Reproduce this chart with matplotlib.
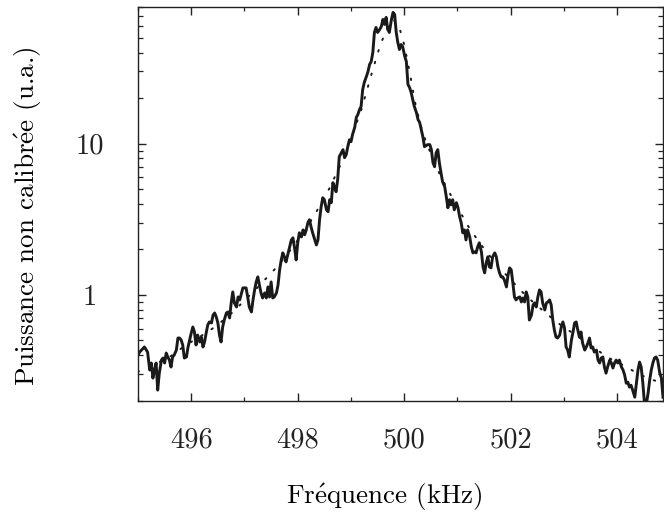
import matplotlib
matplotlib.use("Agg")
import matplotlib.pyplot as plt
from matplotlib.ticker import FixedLocator, FixedFormatter, LogLocator, NullFormatter, MultipleLocator

plt.rcParams['mathtext.fontset'] = 'cm'
plt.rcParams['font.family'] = ['cmr10', 'DejaVu Serif']

# Measured spectrum (kHz, arbitrary units)
freq = [494.99, 495.03, 495.12, 495.18, 495.22, 495.25, 495.28, 495.31, 495.34, 495.37,
        495.40, 495.44, 495.47, 495.50, 495.53, 495.56, 495.59, 495.62, 495.65, 495.68,
        495.72, 495.75, 495.78, 495.81, 495.84, 495.87, 495.91, 495.94, 495.97, 496.00,
        496.03, 496.06, 496.09, 496.12, 496.16, 496.19, 496.22, 496.25, 496.28, 496.31,
        496.34, 496.38, 496.41, 496.44, 496.47, 496.50, 496.53, 496.56, 496.59, 496.62,
        496.66, 496.69, 496.72, 496.75, 496.78, 496.81, 496.85, 496.88, 496.91, 496.97,
        497.03, 497.06, 497.09, 497.13, 497.16, 497.19, 497.22, 497.25, 497.28, 497.31,
        497.34, 497.38, 497.41, 497.44, 497.47, 497.50, 497.53, 497.56, 497.60, 497.63,
        497.66, 497.69, 497.72, 497.75, 497.78, 497.85, 497.88, 497.91, 497.94, 497.97,
        498.00, 498.03, 498.07, 498.10, 498.13, 498.16, 498.19, 498.22, 498.25, 498.28,
        498.32, 498.35, 498.38, 498.41, 498.44, 498.47, 498.50, 498.54, 498.57, 498.60,
        498.63, 498.66, 498.69, 498.72, 498.75, 498.78, 498.82, 498.85, 498.88, 498.91,
        498.94, 498.97, 499.00, 499.03, 499.07, 499.10, 499.13, 499.16, 499.19, 499.22,
        499.25, 499.29, 499.32, 499.35, 499.38, 499.41, 499.44, 499.47, 499.50, 499.54,
        499.57, 499.60, 499.63, 499.66, 499.69, 499.72, 499.76, 499.79, 499.82, 499.85,
        499.88, 499.91, 499.94, 499.97, 500.01, 500.04, 500.07, 500.10, 500.13, 500.16,
        500.19, 500.23, 500.26, 500.29, 500.32, 500.35, 500.38, 500.41, 500.44, 500.48,
        500.51, 500.54, 500.57, 500.60, 500.63, 500.66, 500.69, 500.72, 500.76, 500.79,
        500.82, 500.85, 500.88, 500.91, 500.94, 500.98, 501.01, 501.04, 501.07, 501.10,
        501.13, 501.16, 501.19, 501.23, 501.26, 501.29, 501.32, 501.35, 501.38, 501.41,
        501.45, 501.48, 501.51, 501.54, 501.57, 501.60, 501.63, 501.66, 501.70, 501.73,
        501.76, 501.79, 501.82, 501.85, 501.88, 501.92, 501.95, 501.98, 502.01, 502.04,
        502.07, 502.10, 502.13, 502.17, 502.20, 502.23, 502.26, 502.29, 502.32, 502.35,
        502.39, 502.42, 502.45, 502.48, 502.51, 502.54, 502.57, 502.60, 502.64, 502.67,
        502.70, 502.73, 502.76, 502.79, 502.82, 502.85, 502.88, 502.92, 502.95, 502.98,
        503.01, 503.04, 503.07, 503.10, 503.14, 503.17, 503.20, 503.23, 503.26, 503.29,
        503.32, 503.35, 503.39, 503.42, 503.45, 503.48, 503.51, 503.54, 503.57, 503.61,
        503.64, 503.67, 503.70, 503.73, 503.76, 503.79, 503.82, 503.86, 503.89, 503.92,
        503.95, 503.98, 504.01, 504.04, 504.08, 504.11, 504.14, 504.17, 504.20, 504.23,
        504.26, 504.29, 504.33, 504.36, 504.39, 504.42, 504.45, 504.48, 504.51, 504.55,
        504.58, 504.61, 504.64, 504.67, 504.70, 504.73, 504.76, 504.80, 504.83, 504.86]

power = [0.395, 0.419, 0.453, 0.419, 0.319, 0.355, 0.282, 0.319, 0.355, 0.235,
         0.304, 0.371, 0.383, 0.355, 0.413, 0.389, 0.371, 0.334, 0.389, 0.401,
         0.432, 0.519, 0.519, 0.504, 0.467, 0.383, 0.389, 0.453, 0.504, 0.560,
         0.614, 0.569, 0.467, 0.543, 0.489, 0.527, 0.453, 0.489, 0.560, 0.633,
         0.663, 0.653, 0.737, 0.760, 0.715, 0.653, 0.543, 0.489, 0.614, 0.683,
         0.760, 0.772, 0.705, 0.885, 1.047, 0.885, 0.833, 0.970, 0.927, 1.113,
         1.113, 0.970, 0.833, 0.772, 0.927, 1.079, 1.219, 1.316, 1.165, 1.031,
         0.955, 1.031, 0.955, 1.130, 0.970, 1.219, 0.955, 0.970, 1.031, 1.165,
         1.464, 1.705, 1.897, 1.785, 1.654, 2.08, 2.31, 2.385, 2.05, 1.705,
         2.21, 2.575, 2.42, 2.69, 2.50, 2.69, 3.00, 3.14, 2.82, 2.575,
         2.31, 2.14, 2.31, 3.14, 3.83, 4.39, 4.26, 3.65, 3.55, 4.26,
         4.07, 5.52, 5.19, 4.81, 5.78, 8.20, 8.71, 9.12, 8.08, 8.45,
         9.55, 10.6, 10.3, 11.5, 12.8, 14.9, 15.6, 16.8, 17.6, 22.8,
         25.4, 27.8, 30.0, 33.4, 34.9, 40.0, 54.3, 58.6, 54.3, 56.9,
         59.5, 66.2, 61.4, 68.3, 56.9, 54.3, 66.2, 73.7, 71.4, 54.3,
         46.6, 41.9, 45.2, 43.9, 37.7, 34.9, 24.6, 23.5, 21.8, 19.5,
         17.6, 16.0, 14.4, 13.8, 12.4, 11.1, 9.55, 9.70, 9.85, 9.85,
         9.12, 7.48, 7.04, 8.71, 9.12, 7.48, 6.43, 5.60, 5.19, 4.46,
         3.77, 4.26, 3.94, 4.26, 3.65, 4.07, 3.77, 3.29, 3.00, 2.575,
         2.69, 2.31, 2.69, 2.42, 2.08, 1.897, 1.925, 1.897, 2.08, 2.21,
         1.925, 1.532, 1.399, 1.629, 1.785, 1.532, 1.510, 1.785, 1.897, 1.785,
         1.532, 1.399, 1.316, 1.316, 1.257, 1.130, 1.357, 1.510, 1.464, 1.201,
         0.970, 0.927, 0.955, 0.970, 0.899, 0.955, 0.899, 1.047, 0.970, 0.683,
         0.737, 0.859, 0.885, 0.833, 0.970, 1.079, 1.047, 0.885, 0.796, 0.885,
         0.899, 0.927, 0.859, 0.683, 0.586, 0.527, 0.519, 0.543, 0.614, 0.663,
         0.605, 0.453, 0.432, 0.389, 0.504, 0.569, 0.653, 0.663, 0.586, 0.527,
         0.569, 0.481, 0.432, 0.453, 0.481, 0.519, 0.446, 0.453, 0.419, 0.432,
         0.371, 0.355, 0.383, 0.389, 0.334, 0.304, 0.334, 0.371, 0.355, 0.329,
         0.355, 0.371, 0.355, 0.371, 0.334, 0.319, 0.295, 0.261, 0.265, 0.246,
         0.253, 0.235, 0.211, 0.261, 0.319, 0.360, 0.334, 0.265, 0.196, 0.193,
         0.224, 0.274, 0.319, 0.355, 0.383, 0.389, 0.371, 0.304, 0.282, 0.211]

# Fitted curve (dotted)
fit_freq = [494.99, 495.2, 495.4, 495.6, 495.8, 496.0, 496.2, 496.4, 496.6, 496.8,
            497.0, 497.2, 497.4, 497.6, 497.8, 498.0, 498.2, 498.4, 498.6, 498.8,
            499.0, 499.2, 499.4, 499.55, 499.7, 499.8, 499.9, 500.0, 500.1, 500.2,
            500.3, 500.4, 500.6, 500.8, 501.0, 501.2, 501.4, 501.6, 501.8, 502.0,
            502.2, 502.4, 502.6, 502.8, 503.0, 503.2, 503.4, 503.6, 503.8, 504.0,
            504.2, 504.4, 504.6, 504.86]
fit_power = [0.31, 0.33, 0.36, 0.39, 0.44, 0.49, 0.54, 0.60, 0.68, 0.78,
             0.92, 1.08, 1.28, 1.52, 1.85, 2.3, 2.9, 3.8, 5.1, 7.2,
             10.8, 17.0, 30.0, 45.0, 60.0, 66.0, 60.0, 45.0, 30.0, 19.0,
             13.5, 10.5, 7.0, 5.1, 3.8, 2.85, 2.25, 1.82, 1.50, 1.26,
             1.06, 0.91, 0.79, 0.69, 0.61, 0.55, 0.49, 0.44, 0.39, 0.36,
             0.33, 0.30, 0.28, 0.26]

xticks = [496, 498, 500, 502, 504]
xtick_labels = ['496', '498', '500', '502', '504']
yticks = [1, 10]
ytick_labels = ['1', '10']

fig = plt.figure(figsize=(6.64, 5.14), dpi=100)
ax = fig.add_axes([138/664, 1 - 400.7/514, 525/664, 393.7/514])

ax.plot(freq, power, color='#1a1a1a', linewidth=2.1, solid_joinstyle='round')
ax.plot(fit_freq, fit_power, color='#1a1a1a', linewidth=1.4,
        linestyle=(0, (0.8, 5.5)), dash_capstyle='round')

ax.set_yscale('log')
ax.set_xlim(495.0, 504.86)
ax.set_ylim(0.2, 80)

ax.xaxis.set_major_locator(FixedLocator(xticks))
ax.xaxis.set_major_formatter(FixedFormatter(xtick_labels))
ax.xaxis.set_minor_locator(MultipleLocator(1))
ax.yaxis.set_major_locator(FixedLocator(yticks))
ax.yaxis.set_major_formatter(FixedFormatter(ytick_labels))
ax.yaxis.set_minor_locator(LogLocator(base=10, subs=[2, 3, 4, 5, 6, 7, 8, 9], numticks=20))
ax.yaxis.set_minor_formatter(NullFormatter())

ax.tick_params(axis='both', which='both', direction='in', colors='#222222',
               top=True, right=True)
ax.tick_params(axis='x', which='major', length=6, width=1.0, pad=19, labelsize=20.5)
ax.tick_params(axis='x', which='minor', length=3, width=0.9)
ax.tick_params(axis='y', which='major', length=6, width=1.0, pad=35, labelsize=20.5)
ax.tick_params(axis='y', which='minor', length=3.5, width=0.9)
for lab in ax.get_yticklabels():
    lab.set_horizontalalignment('center')
for s in ax.spines.values():
    s.set_linewidth(1.0)
    s.set_color('#222222')

ax.set_xlabel(r'Fr$\mathrm{\acute{e}}$quence (kHz)', fontsize=19.5, va='center')
ax.xaxis.set_label_coords(0.469, -0.245)
ax.set_ylabel(r'Puissance non calibr$\mathrm{\acute{e}}$e (u.a.)', fontsize=19.5, va='center')
ax.yaxis.set_label_coords(-0.209, 0.47)

fig.savefig('out.png', dpi=100)
